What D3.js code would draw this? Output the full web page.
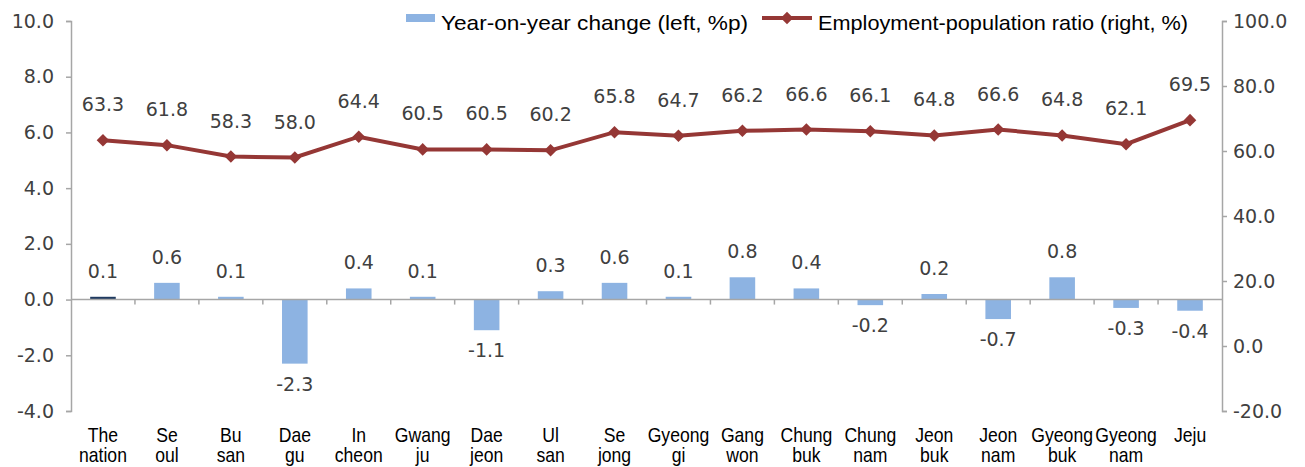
<!DOCTYPE html>
<html>
<head>
<meta charset="utf-8">
<script src="https://cdn.jsdelivr.net/npm/d3@7"></script>
<style>
  body { margin: 0; background: #fff; }
  .num { font-family: "DejaVu Sans", sans-serif; font-size: 19px; fill: #404040; }
  .cat { font-family: "Liberation Sans", Arial, sans-serif; font-size: 20px; fill: #000; }
  .leg { font-family: "Liberation Sans", Arial, sans-serif; font-size: 21px; fill: #000; }
</style>
</head>
<body>
<svg id="chart"></svg>
<script>
// Regions (two-line labels)
const regions = [
  ["The", "nation"], ["Se", "oul"], ["Bu", "san"], ["Dae", "gu"], ["In", "cheon"],
  ["Gwang", "ju"], ["Dae", "jeon"], ["Ul", "san"], ["Se", "jong"], ["Gyeong", "gi"],
  ["Gang", "won"], ["Chung", "buk"], ["Chung", "nam"], ["Jeon", "buk"], ["Jeon", "nam"],
  ["Gyeong", "buk"], ["Gyeong", "nam"], ["Jeju", ""]
];

// Year-on-year change (left axis, %p)
const yoyChange = [0.1, 0.6, 0.1, -2.3, 0.4, 0.1, -1.1, 0.3, 0.6, 0.1, 0.8, 0.4, -0.2, 0.2, -0.7, 0.8, -0.3, -0.4];

// Employment-population ratio (right axis, %)
const empRatio = [63.3, 61.8, 58.3, 58.0, 64.4, 60.5, 60.5, 60.2, 65.8, 64.7, 66.2, 66.6, 66.1, 64.8, 66.6, 64.8, 62.1, 69.5];

const leftTicks = [-4, -2, 0, 2, 4, 6, 8, 10];
const rightTicks = [-20, 0, 20, 40, 60, 80, 100];

const width = 1305;
const height = 467;
const plotLeft = 71, plotRight = 1222, plotTop = 21, plotBottom = 411;

const fmt = d => d.toFixed(1); // plain hyphen minus, like the original

const svg = d3.select("#chart").attr("width", width).attr("height", height);

const keys = d3.range(regions.length);
const x = d3.scaleBand().domain(keys).range([plotLeft, plotRight]).paddingInner(0.6).paddingOuter(0.3);
const xc = i => x(i) + x.bandwidth() / 2;
const yL = d3.scaleLinear().domain([-4, 10]).range([plotBottom, plotTop]);
const yR = d3.scaleLinear().domain([-20, 100]).range([plotBottom, plotTop]);

const axisColor = "#a6a6a6";

// Left axis
const gl = svg.append("g").attr("transform", `translate(${plotLeft},0)`)
  .call(d3.axisLeft(yL).tickValues(leftTicks).tickFormat(fmt).tickSize(5).tickPadding(12));
gl.select(".domain").attr("stroke", axisColor).attr("stroke-width", 1.5);
gl.selectAll(".tick line").attr("stroke", axisColor).attr("stroke-width", 1.5);
gl.selectAll(".tick text").attr("class", "num");
gl.attr("font-size", null).attr("font-family", null);

// Right axis
const gr = svg.append("g").attr("transform", `translate(${plotRight},0)`)
  .call(d3.axisRight(yR).tickValues(rightTicks).tickFormat(fmt).tickSize(5).tickPadding(6));
gr.select(".domain").attr("stroke", axisColor).attr("stroke-width", 1.5);
gr.selectAll(".tick line").attr("stroke", axisColor).attr("stroke-width", 1.5);
gr.selectAll(".tick text").attr("class", "num");
gr.attr("font-size", null).attr("font-family", null);

// Bars
svg.append("g").selectAll("rect")
  .data(yoyChange)
  .join("rect")
  .attr("x", (d, i) => x(i))
  .attr("y", d => yL(Math.max(0, d)))
  .attr("width", x.bandwidth())
  .attr("height", d => Math.abs(yL(d) - yL(0)))
  .attr("fill", (d, i) => i === 0 ? "#1f3a60" : "#8db3e2");

// Category axis line at zero with boundary ticks
const y0 = yL(0);
svg.append("line")
  .attr("x1", plotLeft).attr("x2", plotRight).attr("y1", y0).attr("y2", y0)
  .attr("stroke", axisColor).attr("stroke-width", 1.5);
svg.append("g").selectAll("line")
  .data(d3.range(1, regions.length))
  .join("line")
  .attr("x1", i => plotLeft + (plotRight - plotLeft) * i / regions.length)
  .attr("x2", i => plotLeft + (plotRight - plotLeft) * i / regions.length)
  .attr("y1", y0).attr("y2", y0 + 5)
  .attr("stroke", axisColor).attr("stroke-width", 1.5);

// Bar labels
svg.append("g").selectAll("text")
  .data(yoyChange)
  .join("text")
  .attr("class", "num")
  .attr("text-anchor", "middle")
  .attr("dominant-baseline", "central")
  .attr("x", (d, i) => xc(i))
  .attr("y", d => d >= 0 ? yL(d) - 26 : yL(d) + 20)
  .text(fmt);

// Line
const line = d3.line().x((d, i) => xc(i)).y(d => yR(d));
const lineColor = "#953735";
svg.append("path")
  .datum(empRatio)
  .attr("d", line)
  .attr("fill", "none")
  .attr("stroke", lineColor)
  .attr("stroke-width", 4);

const diamond = d3.symbol().type(d3.symbolDiamond2).size(100);
svg.append("g").selectAll("path")
  .data(empRatio)
  .join("path")
  .attr("transform", (d, i) => `translate(${xc(i)},${yR(d)})`)
  .attr("d", diamond)
  .attr("fill", lineColor);

// Line labels
svg.append("g").selectAll("text")
  .data(empRatio)
  .join("text")
  .attr("class", "num")
  .attr("text-anchor", "middle")
  .attr("dominant-baseline", "central")
  .attr("x", (d, i) => xc(i))
  .attr("y", d => yR(d) - 36)
  .text(fmt);

// Category labels (condensed look of the original)
const cats = svg.append("g").selectAll("text")
  .data(regions)
  .join("text")
  .attr("class", "cat")
  .attr("text-anchor", "middle")
  .attr("transform", (d, i) => `translate(${xc(i)},0) scale(0.88,1)`);
cats.append("tspan").attr("x", 0).attr("y", 442).text(d => d[0]);
cats.append("tspan").attr("x", 0).attr("y", 462).text(d => d[1]);

// Legend
const legend = svg.append("g");
legend.append("rect").attr("x", 406).attr("y", 14).attr("width", 29).attr("height", 8).attr("fill", "#8db3e2");
legend.append("text").attr("class", "leg").attr("x", 441).attr("y", 30)
  .attr("textLength", 307).attr("lengthAdjust", "spacingAndGlyphs")
  .text("Year-on-year change (left, %p)");
legend.append("line").attr("x1", 762).attr("x2", 812).attr("y1", 18).attr("y2", 18)
  .attr("stroke", lineColor).attr("stroke-width", 4);
legend.append("path").attr("transform", "translate(787,18)").attr("d", diamond).attr("fill", lineColor);
legend.append("text").attr("class", "leg").attr("x", 818).attr("y", 30)
  .attr("textLength", 370).attr("lengthAdjust", "spacingAndGlyphs")
  .text("Employment-population ratio (right, %)");
</script>
</body>
</html>
